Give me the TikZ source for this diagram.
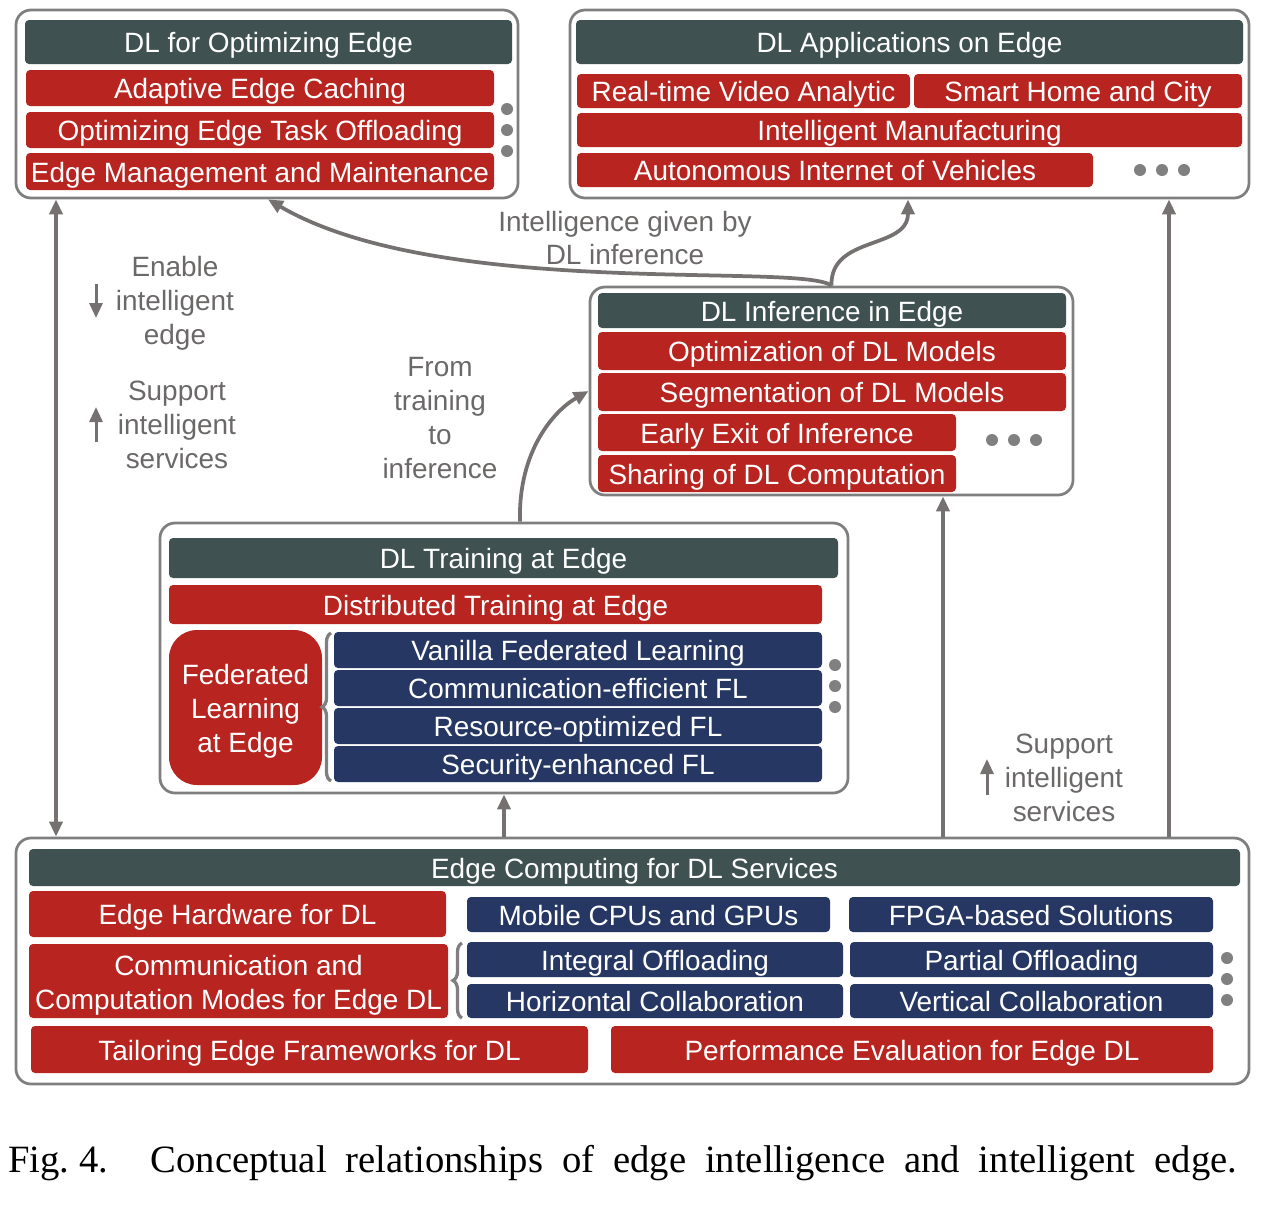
\documentclass[tikz,border=0pt]{standalone}
\usepackage{fontspec}
\setmainfont{Liberation Sans}
\newfontfamily\capfont{Liberation Serif}
\usetikzlibrary{arrows.meta,decorations.pathreplacing}
\definecolor{headgray}{HTML}{3F5151}
\definecolor{edred}{HTML}{B8241F}
\definecolor{edblue}{HTML}{253762}
\definecolor{linegray}{HTML}{767171}
\definecolor{boxgray}{HTML}{7F7F7F}
\definecolor{dotgray}{HTML}{808080}
\definecolor{textgray}{HTML}{6B6868}

\begin{document}
\begin{tikzpicture}[x=0.02cm,y=-0.02cm,>={Triangle[length=0.3cm,width=0.26cm]},
  font=\fontsize{15.9}{19.3}\selectfont,
  sz/.style 2 args={minimum width=#1*0.02cm,minimum height=#2*0.02cm},
  frame/.style={draw=boxgray,line width=0.055cm,rounded corners=0.3cm,fill=white,inner sep=0},
  bar/.style={rounded corners=0.08cm,text=white,inner sep=0,align=center,text height=12pt,text depth=0pt},
  headbar/.style={bar,fill=headgray},
  redbar/.style={bar,fill=edred},
  bluebar/.style={bar,fill=edblue},
  lines/.style={text=white,align=center,yshift=-0.08cm,inner sep=0},
  note/.style={text=textgray,align=center,inner sep=0},
  conn/.style={draw=linegray,line width=0.075cm},
  tick/.style={draw=linegray,line width=0.06cm,-{Triangle[length=0.3cm,width=0.26cm]}},
  brc/.style={draw=boxgray,line width=0.065cm,decorate,decoration={brace,amplitude=0.18cm}}]
\useasboundingbox (0,0) rectangle (1279,1218);

% DL for optimizing edge
\node[frame,sz={502}{188}] (opt) at (267,104) {};
\node[headbar,sz={487}{44}] (opthead) at (268.5,42) {DL for Optimizing Edge};
\node[redbar,sz={468}{36}] (cache) at (260,88) {Adaptive Edge Caching};
\node[redbar,sz={468}{36}] (offload) at (260,130) {Optimizing Edge Task Offloading};
\node[redbar,sz={468}{37}] (manage) at (260,171.5) {Edge Management and Maintenance};
\foreach \y in {109,130,151}{\fill[dotgray] (507,\y) circle (6);}

% DL applications on edge
\node[frame,sz={679}{188}] (app) at (909.5,104) {};
\node[headbar,sz={667}{44}] (apphead) at (909.5,42) {DL Applications on Edge};
\node[redbar,sz={333}{34}] (video) at (743.5,91) {Real-time Video Analytic};
\node[redbar,sz={328}{34}] (city) at (1078,91) {Smart Home and City};
\node[redbar,sz={665}{34}] (manuf) at (909.5,130) {Intelligent Manufacturing};
\node[redbar,sz={516}{34}] (iov) at (835,170) {Autonomous Internet of Vehicles};
\foreach \x in {1140,1162,1184}{\fill[dotgray] (\x,170) circle (6);}

% DL inference in edge
\node[frame,sz={483}{208}] (inf) at (831.5,391) {};
\node[headbar,sz={468}{35}] (infhead) at (832,310.5) {DL Inference in Edge};
\node[redbar,sz={468}{38}] (optim) at (832,351) {Optimization of DL Models};
\node[redbar,sz={468}{38}] (segm) at (832,392) {Segmentation of DL Models};
\node[redbar,sz={358}{37}] (exit) at (777,432.5) {Early Exit of Inference};
\node[redbar,sz={358}{37}] (share) at (777,473.5) {Sharing of DL Computation};
\foreach \x in {992,1014,1036}{\fill[dotgray] (\x,440) circle (6);}

% DL training at edge
\node[frame,sz={688}{270}] (train) at (504,658) {};
\node[headbar,sz={669}{40}] (trainhead) at (503.5,558) {DL Training at Edge};
\node[redbar,sz={653}{39}] (distr) at (495.5,604.5) {Distributed Training at Edge};
\node[redbar,rounded corners=0.56cm,sz={153}{155},label={[lines]center:Federated\\Learning\\at Edge}] (fed) at (245.5,707.5) {};
\node[bluebar,sz={488}{36}] (vanilla) at (578,650) {Vanilla Federated Learning};
\node[bluebar,sz={488}{36}] (commfl) at (578,688) {Communication-efficient FL};
\node[bluebar,sz={488}{36}] (resfl) at (578,726) {Resource-optimized FL};
\node[bluebar,sz={488}{36}] (secfl) at (578,764) {Security-enhanced FL};
\draw[brc] (331,781) -- (331,633);
\foreach \y in {665,686,707}{\fill[dotgray] (835,\y) circle (6);}

% edge computing for DL services
\node[frame,sz={1233}{246}] (ecomp) at (632.5,961) {};
\node[headbar,sz={1211}{37}] (ecomphead) at (634.5,867.5) {Edge Computing for DL Services};
\node[redbar,sz={417}{46}] (hw) at (237.5,914) {Edge Hardware for DL};
\node[bluebar,sz={363}{35}] (cpu) at (648.5,914.5) {Mobile CPUs and GPUs};
\node[bluebar,sz={364}{35}] (fpga) at (1031,914.5) {FPGA-based Solutions};
\node[redbar,sz={419}{74},label={[lines]center:Communication and\\Computation Modes for Edge DL}] (modes) at (238.5,981) {};
\node[bluebar,sz={376}{35}] (integral) at (655,959.5) {Integral Offloading};
\node[bluebar,sz={363}{35}] (partial) at (1031.5,959.5) {Partial Offloading};
\node[bluebar,sz={376}{34}] (horiz) at (655,1001) {Horizontal Collaboration};
\node[bluebar,sz={363}{34}] (vert) at (1031.5,1001) {Vertical Collaboration};
\draw[brc] (462,1018) -- (462,943);
\foreach \y in {958,979,1000}{\fill[dotgray] (1227,\y) circle (6);}
\node[redbar,sz={557}{47}] (tailor) at (309.5,1049.5) {Tailoring Edge Frameworks for DL};
\node[redbar,sz={602}{47}] (perf) at (912,1049.5) {Performance Evaluation for Edge DL};

% connectors
\coordinate (xl) at (56,0); \coordinate (xo) at (268,0); \coordinate (xa) at (908,0);
\coordinate (xt) at (520,0); \coordinate (xi) at (943,0); \coordinate (xr) at (1169,0);
\draw[conn,<->] (opt.south -| xl) -- (ecomp.north -| xl);
\draw[conn,->] (ecomp.north -| train.south) -- (train.south);
\draw[conn,->] (ecomp.north -| xi) -- (inf.south -| xi);
\draw[conn,->] (ecomp.north -| xr) -- (app.south -| xr);
\draw[conn,->] (inf.north) .. controls (800,262) and (440,300) .. (opt.south -| xo);
\draw[conn,->] (inf.north) .. controls (830,235) and (908,250) .. (app.south -| xa);
\draw[conn,->] (train.north -| xt) .. controls (518,450) and (555,410) .. (inf.west);

% labels
\node[note] (given) at (625,238) {Intelligence given by\\DL inference};
\node[note] (enable) at (175,303) {Enable\\intelligent\\edge};
\draw[tick] (96,284) -- (96,318);
\node[note] (support) at (177,425) {Support\\intelligent\\services};
\draw[tick] (96,442) -- (96,407);
\node[note] (totrain) at (440,418) {From\\training\\to\\inference};
\node[note] (support2) at (1064,778) {Support\\intelligent\\services};
\draw[tick] (987,795) -- (987,759);

\node[anchor=west,inner sep=0,font=\capfont\fontsize{22}{26}\selectfont] (caption) at (8,1163)
  {\hbox to 24.58cm{Fig.~4.\hspace{1.1em}Conceptual\hfill relationships\hfill of\hfill edge\hfill intelligence\hfill and\hfill intelligent\hfill edge.}};
\end{tikzpicture}
\end{document}
